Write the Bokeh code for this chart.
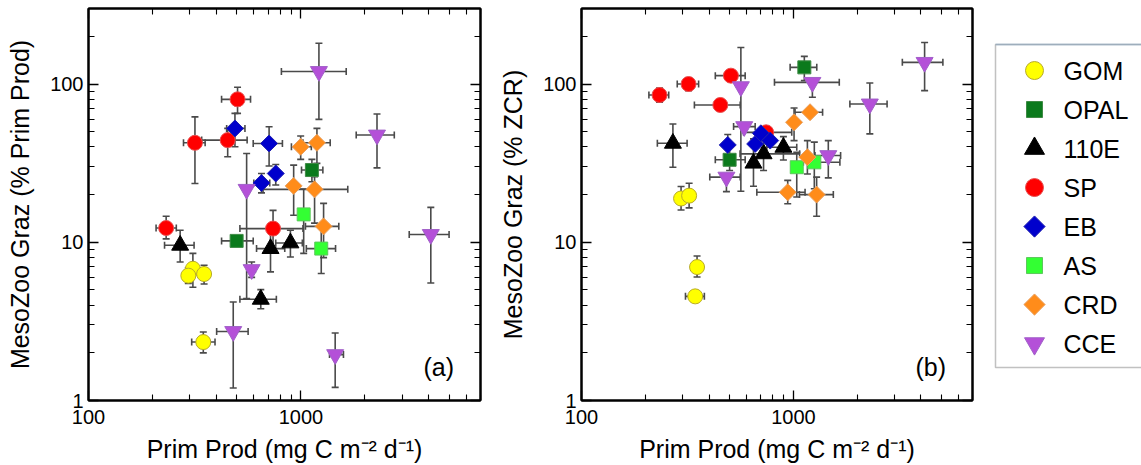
from bokeh.plotting import figure
from bokeh.layouts import row
from bokeh.models import (ColumnDataSource, LinearAxis, FixedTicker, PrintfTickFormatter,
                          CustomJSTickFormatter, Whisker, TeeHead, BoxAnnotation,
                          Range1d, Label)
from bokeh.core.properties import value
from bokeh.embed import file_html
from bokeh.resources import INLINE

# ---------------- categories / styles ----------------
GROUPS = ["GOM", "OPAL", "110E", "SP", "EB", "AS", "CRD", "CCE"]
FILL = ["#ffff00", "#0b7a1c", "#000000", "#ff0000", "#0000cc", "#33ff33", "#ff8c1a", "#b450d8"]
LINE = ["#b8ab2a", "#3f8a45", "#000000", "#e85050", "#2020b0", "#5cc85c", "#e8a060", "#a060c8"]
MARKER = ["circle", "square", "triangle", "circle", "square", "square", "square", "inverted_triangle"]
ANGLE = [0, 0, 0, 0, 45, 0, 45, 0]
SIZE = [15, 13, 17, 15, 12, 13, 12, 17]
LEGEND_SIZE = [18, 16, 20, 18, 15, 16, 15, 20]

# axis ticks
X_MAJOR = [100, 1000, 10000]
X_MINOR = [200, 300, 400, 500, 600, 700, 800, 900, 2000, 3000, 4000, 5000, 6000, 7000]
Y_MAJOR = [1, 10, 100]
Y_MINOR = [2, 3, 4, 5, 6, 7, 8, 9, 20, 30, 40, 50, 60, 70, 80, 90, 200, 300]

# ---------------- panel (a): % Prim Prod ----------------
A_GROUP = (["GOM"] * 4 + ["OPAL"] * 2 + ["110E"] * 4 + ["SP"] * 5 + ["EB"] * 4 +
           ["AS"] * 2 + ["CRD"] * 5 + ["CCE"] * 7)
A_X = [310, 295, 350, 347,
       498, 1126,
       270, 719, 892, 647,
       503, 317, 452, 232, 739,
       489, 708, 652, 761,
       1030, 1246,
       997, 1189, 924, 1159, 1278,
       1215, 2280, 555, 586, 480, 1449, 4085]
A_Y = [6.8, 6.15, 6.3, 2.34,
       10.2, 28.6,
       9.57, 9.12, 9.9, 4.36,
       80, 42.5, 44.2, 12.3, 12.2,
       52.4, 42.1, 23.7, 27.2,
       15.0, 9.12,
       40.1, 42.5, 22.7, 21.6, 12.6,
       120, 47.6, 21.6, 6.72, 2.73, 1.95, 11.2]
A_XLO = [310, 295, 350, 306,
         423, 1006,
         228, 618, 761, 516,
         423, 280, 341, 208, 516,
         447, 596, 600, 761,
         1030, 1060,
         902, 1022, 924, 663, 1050,
         809, 1820, 555, 560, 401, 1363, 3233]
A_XHI = [310, 295, 350, 394,
         596, 1268,
         314, 839, 1015, 766,
         579, 354, 558, 259, 1022,
         545, 818, 713, 761,
         1030, 1455,
         1119, 1373, 924, 1661, 1507,
         1633, 2750, 555, 610, 564, 1585, 4980]
A_YLO = [5.2, 5.5, 5.45, 2.0,
         10.2, 24.1,
         7.5, 6.5, 8.07, 3.8,
         65.2, 23.5, 34.7, 10.5, 9.3,
         40.1, 30.3, 20.5, 23.0,
         8.5, 6.34,
         33.4, 31.5, 14.8, 13.2, 8.0,
         59.8, 29.5, 4.4, 6.0, 1.2, 1.21, 5.53]
A_YHI = [8.5, 6.9, 7.15, 2.71,
         10.2, 33.4,
         11.9, 12.0, 11.9, 5.02,
         95.3, 62.0, 52.4, 14.6, 15.9,
         65.2, 53.7, 27.2, 31.0,
         21.7, 12.5,
         46.9, 52.4, 30.7, 26.0, 17.6,
         181, 64.6, 36.4, 7.5, 4.19, 2.67, 16.6]

# ---------------- panel (b): % ZCR ----------------
B_GROUP = A_GROUP
B_X = [295, 322, 351, 344,
       1126, 500,
       270, 648, 723, 897,
       233.5, 320, 507, 452, 744,
       490, 660, 702, 777,
       1037, 1255,
       1007, 1198, 1164, 940, 1287,
       4160, 2294, 1229, 565, 586, 483, 1461]
B_Y = [18.9, 19.7, 6.97, 4.55,
       127.4, 33.2,
       42.2, 31.6, 36.2, 39.8,
       85.2, 100, 112.9, 73.7, 49.5,
       41.2, 41.8, 48.8, 43.9,
       29.8, 32.0,
       57.3, 66.3, 34.5, 20.7, 20.0,
       137, 74.8, 102.4, 96.2, 53.8, 25.8, 35.3]
B_XLO = [295, 322, 351, 309.5,
         965, 428,
         228, 648, 560, 749,
         208, 283, 428, 341, 582,
         490, 660, 702, 777,
         1037, 1114,
         1007, 1018, 1164, 672, 1067,
         3266, 1847, 814, 565, 522, 403, 1264]
B_XHI = [295, 322, 351, 380,
         1289, 592,
         315, 648, 1070, 1037,
         258, 357, 592, 561, 982,
         490, 660, 702, 777,
         1037, 1657,
         1007, 1373, 1164, 1135, 1543,
         5074, 2767, 1646, 565, 660, 561, 1670]
B_YLO = [16.0, 16.5, 6.03, 4.55,
         105, 28.4,
         29.8, 22.6, 28.4, 33.1,
         76.6, 90.8, 112.9, 73.7, 49.5,
         34.5, 41.8, 48.8, 43.9,
         19.3, 21.8,
         43.9, 66.3, 27.0, 17.5, 14.6,
         90.8, 48.4, 82.4, 21.0, 53.8, 20.9, 25.5]
B_YHI = [22.5, 23.6, 8.18, 4.55,
         149.5, 39.8,
         55.9, 45.0, 52.0, 46.5,
         94.3, 109, 112.9, 73.7, 49.5,
         48.0, 41.8, 48.8, 43.9,
         37.0, 42.9,
         70.6, 66.3, 43.9, 24.6, 25.8,
         183, 101.5, 102.4, 170, 53.8, 25.8, 43.9]

X_LABEL = "Prim Prod (mg C m\u207b\u00b2 d\u207b\u00b9)"
FONT = "Liberation Sans"


def style_axis(ax, major, minor, labels=True):
    ax.ticker = FixedTicker(ticks=major, minor_ticks=minor)
    ax.axis_line_color = "black"
    ax.axis_line_width = 2
    ax.major_tick_in = 10
    ax.major_tick_out = 0
    ax.minor_tick_in = 6
    ax.minor_tick_out = 0
    ax.major_tick_line_color = "black"
    ax.minor_tick_line_color = "black"
    ax.major_tick_line_width = 1.3
    ax.minor_tick_line_width = 1.1
    ax.major_label_text_font = FONT
    ax.major_label_text_color = "black"
    ax.major_label_text_font_size = "20px"
    ax.axis_label_text_font = FONT
    ax.axis_label_text_font_style = "normal"
    ax.axis_label_text_color = "black"
    ax.axis_label_text_font_size = "25px"
    if labels:
        ax.formatter = PrintfTickFormatter(format="%d")
        ax.major_label_standoff = 9
    else:
        ax.formatter = CustomJSTickFormatter(code="return ''")
        ax.major_label_standoff = 0
        ax.axis_label = None


def make_panel(group, x, y, xlo, xhi, ylo, yhi, ylabel, tag, left, right, fw):
    p = figure(x_axis_type="log", y_axis_type="log",
               x_range=Range1d(100, 7000), y_range=Range1d(1, 300),
               frame_width=fw, frame_height=392,
               min_border_left=left, min_border_right=right,
               min_border_top=8, min_border_bottom=0,
               output_backend="svg", toolbar_location=None)
    p.grid.visible = False
    p.outline_line_color = "black"
    p.outline_line_width = 2
    style_axis(p.xaxis[0], X_MAJOR, X_MINOR)
    style_axis(p.yaxis[0], Y_MAJOR, Y_MINOR)
    p.yaxis[0].major_label_standoff = 5
    p.xaxis[0].axis_label = X_LABEL
    p.xaxis[0].axis_label_standoff = 8
    p.yaxis[0].axis_label = ylabel
    p.yaxis[0].axis_label_standoff = 13
    top = LinearAxis()
    style_axis(top, X_MAJOR, X_MINOR, labels=False)
    p.add_layout(top, "above")
    rgt = LinearAxis()
    style_axis(rgt, Y_MAJOR, Y_MINOR, labels=False)
    p.add_layout(rgt, "right")

    # error bars (only where there is a spread)
    xi = [i for i in range(len(x)) if xlo[i] != xhi[i]]
    yi = [i for i in range(len(x)) if ylo[i] != yhi[i]]
    src_x = ColumnDataSource(dict(y=[y[i] for i in xi], lo=[xlo[i] for i in xi], hi=[xhi[i] for i in xi]))
    src_y = ColumnDataSource(dict(x=[x[i] for i in yi], lo=[ylo[i] for i in yi], hi=[yhi[i] for i in yi]))
    for src, base, dim in ((src_x, "y", "width"), (src_y, "x", "height")):
        w = Whisker(source=src, base=base, lower="lo", upper="hi", dimension=dim,
                    line_color="#4a4a4a", line_width=1.6, level="underlay",
                    upper_head=TeeHead(size=7, line_color="#4a4a4a", line_width=1.6),
                    lower_head=TeeHead(size=7, line_color="#4a4a4a", line_width=1.6))
        p.add_layout(w)

    for gi, g in enumerate(GROUPS):
        idx = [i for i in range(len(x)) if group[i] == g]
        src = ColumnDataSource(dict(x=[x[i] for i in idx], y=[y[i] for i in idx]))
        p.scatter("x", "y", source=src, marker=MARKER[gi], size=SIZE[gi],
                  angle=ANGLE[gi], angle_units="deg",
                  fill_color=FILL[gi], line_color=LINE[gi], line_width=1)

    lab = Label(x=5250, y=1.62, text=tag, text_align="right", text_baseline="middle",
                text_font=FONT, text_font_size="25px", text_color="black")
    p.add_layout(lab)
    return p


pa = make_panel(A_GROUP, A_X, A_Y, A_XLO, A_XHI, A_YLO, A_YHI,
                "MesoZoo Graz (% Prim Prod)", "(a)", 88, 10, 392)
pb = make_panel(B_GROUP, B_X, B_Y, B_XLO, B_XHI, B_YLO, B_YHI,
                "MesoZoo Graz (% ZCR)", "(b)", 91, 10, 391)

# ---------------- legend panel: one row per group (row = -index) ----------------
pl = figure(frame_width=159, frame_height=392, x_range=Range1d(0, 159), y_range=Range1d(-8.46, 1.59),
            x_axis_location=None, y_axis_location=None,
            min_border_left=0, min_border_top=8, min_border_right=0, min_border_bottom=0,
            output_backend="svg", toolbar_location=None)
pl.grid.visible = False
pl.outline_line_color = None
leg_src = ColumnDataSource(dict(
    label=GROUPS,
    row=[-i for i in range(len(GROUPS))],
    marker=MARKER, angle=ANGLE, size=LEGEND_SIZE, fill=FILL, line=LINE,
))
box = BoxAnnotation(left=13, right=400, top=0.667, bottom=-7.614,
                    fill_color="white", fill_alpha=1,
                    line_color="#333333", line_width=1.5, level="underlay")
pl.add_layout(box)
topline = BoxAnnotation(left=13, right=400, top=0.667, bottom=0.667,
                        fill_alpha=0, line_color="#4f86b3", line_width=2, level="underlay")
pl.add_layout(topline)
pl.scatter(x=52, y="row", source=leg_src, marker="marker", size="size",
           angle="angle", angle_units="deg",
           fill_color="fill", line_color="line", line_width=1)
pl.text(x=81, y="row", text="label", source=leg_src, text_baseline="middle",
        text_align="left", text_font=value(FONT), text_font_size="25px", text_color="black")

layout = row(pa, pb, pl)
open("out.html", "w").write(file_html(layout, INLINE))
